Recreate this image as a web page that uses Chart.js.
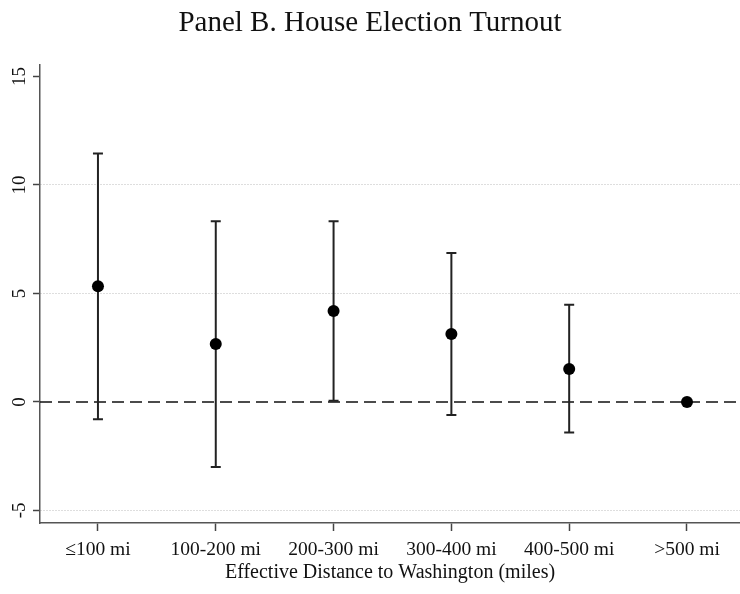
<!DOCTYPE html>
<html>
<head>
<meta charset="utf-8">
<script src="https://cdn.jsdelivr.net/npm/chart.js@4.4.0/dist/chart.umd.min.js"></script>
<style>
  html, body { margin: 0; padding: 0; background: #fff; overflow: hidden; }
  #wrap { width: 740px; height: 594px; }
  canvas { display: block; }
</style>
</head>
<body>
<div id="wrap"><canvas id="turnoutChart"></canvas></div>
<script>
// values
const categories = ['≤100 mi', '100-200 mi', '200-300 mi', '300-400 mi', '400-500 mi', '>500 mi'];
const estimates = [5.33, 2.67, 4.19, 3.13, 1.52, 0];
const lowerCI = [-0.80, -3.00, 0.05, -0.60, -1.41, null];
const upperCI = [11.45, 8.33, 8.33, 6.87, 4.48, null];
const yTicks = [-5, 0, 5, 10, 15];

const X_MIN = 0.508, X_MAX = 6.45;
const Y_MIN = -5.58, Y_MAX = 15.54;

const SERIF = "'Liberation Serif', 'Times New Roman', serif";
const INK = '#111';
const BAR = '#222';

const datasets = [];

// point estimates (index 0 so they are drawn on top)
datasets.push({
    label: 'estimate',
    data: estimates.map((v, i) => ({x: i + 1, y: v})),
    backgroundColor: '#000',
    borderColor: '#000',
    pointRadius: 6,
    pointBorderWidth: 0,
    showLine: false,
});

// confidence intervals, caps drawn with the 'line' point style
categories.forEach((c, i) => {
    if (lowerCI[i] === null) return;
    datasets.push({
        label: 'ci ' + c,
        data: [{x: i + 1, y: lowerCI[i]}, {x: i + 1, y: upperCI[i]}],
        showLine: true,
        borderColor: BAR,
        borderWidth: 2,
        pointStyle: 'line',
        pointRadius: 5,
        pointBorderWidth: 2,
        pointBorderColor: BAR,
    });
});

// zero reference line
datasets.push({
    label: 'zero',
    data: [{x: X_MIN, y: 0}, {x: X_MAX, y: 0}],
    showLine: true,
    borderColor: '#111',
    borderWidth: 1.5,
    borderDash: [12, 6],
    pointRadius: 0,
});

const chart = new Chart(
        document.getElementById('turnoutChart'),
        {
            type: 'scatter',
            data: {datasets: datasets},
            options: {
                animation: false,
                responsive: true,
                maintainAspectRatio: false,
                events: [],
                layout: {padding: 0, autoPadding: false},
                plugins: {
                    legend: {display: false},
                    tooltip: {enabled: false},
                    title: {
                        display: true,
                        text: 'Panel B. House Election Turnout',
                        color: INK,
                        font: {family: SERIF, size: 29, weight: 'normal'},
                        padding: {top: 6, bottom: 24},
                    },
                },
                scales: {
                    x: {
                        type: 'linear',
                        min: X_MIN,
                        max: X_MAX,
                        afterBuildTicks: (s) => {
                            s.ticks = categories.map((c, i) => ({value: i + 1}));
                        },
                        afterFit: (s) => {
                            s.height = 71;
                            s.paddingLeft = 0;
                            s.paddingRight = 0;
                        },
                        border: {color: '#555', width: 1.5},
                        grid: {drawOnChartArea: false, tickLength: 8, tickColor: '#444', tickWidth: 1.5},
                        ticks: {
                            callback: (v) => categories[v - 1],
                            autoSkip: false,
                            maxRotation: 0,
                            padding: 7,
                            color: INK,
                            font: {family: SERIF, size: 19.5},
                        },
                        title: {
                            display: true,
                            text: 'Effective Distance to Washington (miles)',
                            color: INK,
                            font: {family: SERIF, size: 20},
                            padding: {top: 0, bottom: 9},
                        },
                    },
                    y: {
                        min: Y_MIN,
                        max: Y_MAX,
                        afterBuildTicks: (s) => {
                            s.ticks = yTicks.map(v => ({value: v}));
                        },
                        afterFit: (s) => { s.width = 40; },
                        // border.dash is what v4 uses for the grid lines
                        border: {color: '#555', width: 1.5, dash: [1, 2]},
                        grid: {
                            color: (ctx) => (ctx.tick && (ctx.tick.value === 0 || ctx.tick.value === 15))
                                ? 'rgba(0,0,0,0)' : '#bdbdbd',
                            lineWidth: 1,
                            tickColor: '#444',
                            tickWidth: 1.5,
                            tickLength: 7,
                        },
                        ticks: {
                            minRotation: 90,
                            maxRotation: 90,
                            crossAlign: 'center',
                            padding: 3,
                            color: INK,
                            font: {family: SERIF, size: 19},
                        },
                    },
                },
            },
        });
</script>
</body>
</html>
